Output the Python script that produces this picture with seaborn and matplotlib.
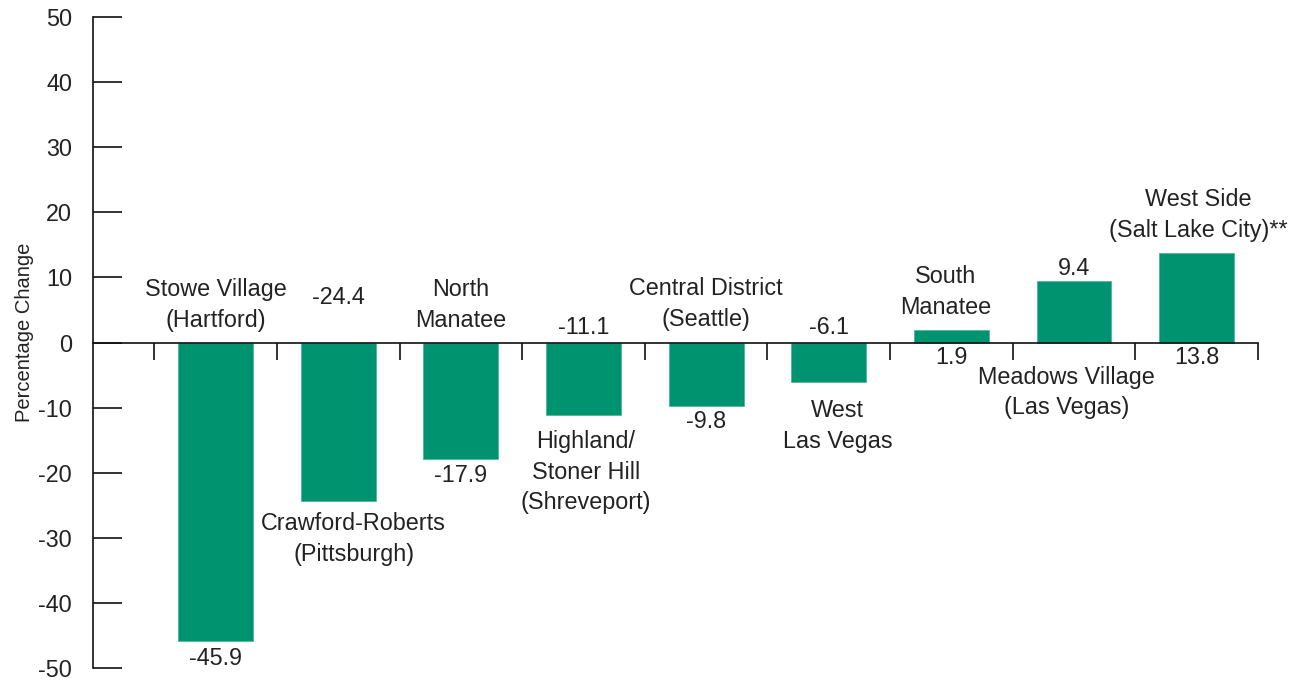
import matplotlib
matplotlib.use("Agg")
import matplotlib.pyplot as plt
import seaborn as sns
import pandas as pd

# ---- data ----
categories = ["Stowe Village\n(Hartford)", "Crawford-Roberts\n(Pittsburgh)", "North\nManatee",
              "Highland/\nStoner Hill\n(Shreveport)", "Central District\n(Seattle)", "West\nLas Vegas",
              "South\nManatee", "Meadows Village\n(Las Vegas)", "West Side\n(Salt Lake City)**"]
values = [-45.9, -24.4, -17.9, -11.1, -9.8, -6.1, 1.9, 9.4, 13.8]
value_labels = ["-45.9", "-24.4", "-17.9", "-11.1", "-9.8", "-6.1", "1.9", "9.4", "13.8"]
y_ticks = [-50, -40, -30, -20, -10, 0, 10, 20, 30, 40, 50]
y_title = "Percentage Change"

# ---- label placement (data coords) ----
name_pos = [(0.0, 5.76), (1.125, -30.2), (2.0, 5.76), (3.02, -19.9), (4.0, 5.9),
            (5.07, -12.8), (5.95, 7.76), (6.94, -7.68), (8.01, 19.6)]
val_pos = [(0.0, -48.5), (1.0, 6.84), (2.0, -20.5), (3.0, 2.23), (4.0, -12.06),
           (5.0, 2.23), (6.0, -2.38), (7.0, 11.3), (8.0, -2.23)]

GREEN = "#009370"
TXT = "#222222"
FS = 16.8

sns.set_style("white")
plt.rcParams['font.family'] = ['Liberation Sans', 'DejaVu Sans']

fig = plt.figure(figsize=(13.04, 6.81), dpi=100)
ax = fig.add_axes([93/1304, 1 - 668/681, (1258 - 93)/1304, (668 - 17)/681])

df = pd.DataFrame({"cat": categories, "val": values})
sns.barplot(data=df, x="cat", y="val", color=GREEN, saturation=1, width=0.61,
            edgecolor="#4fb597", linewidth=0.6, ax=ax)

ax.set_xlim(-1, 8.5)
ax.set_ylim(-50, 50)
ax.set_yticks(y_ticks)
ax.set_yticklabels([str(t) for t in y_ticks], fontsize=FS, color=TXT)
ax.tick_params(axis="y", left=True, direction="in", length=21, width=1.2,
               color="#111111", pad=15)

ax.set_xticks([i - 0.5 for i in range(10)])
ax.set_xticklabels([])
ax.tick_params(axis="x", bottom=True, direction="out", length=12.5, width=1.2, color="#111111")

for s in ["top", "right"]:
    ax.spines[s].set_visible(False)
ax.spines["left"].set_color("#111111")
ax.spines["left"].set_linewidth(1.2)
ax.spines["bottom"].set_position(("data", 0))
ax.spines["bottom"].set_color("#111111")
ax.spines["bottom"].set_linewidth(1.2)

ax.set_xlabel("")
ax.set_ylabel(y_title, fontsize=14.5, color=TXT)
ax.yaxis.set_label_coords(-0.051, 0.515)

for (x, y), name in zip(name_pos, categories):
    ax.text(x, y, name, ha="center", va="center", fontsize=FS, color=TXT, linespacing=1.42)
for (x, y), lab in zip(val_pos, value_labels):
    ax.text(x, y, lab, ha="center", va="center", fontsize=FS, color=TXT)

fig.savefig("out.png", dpi=100)
